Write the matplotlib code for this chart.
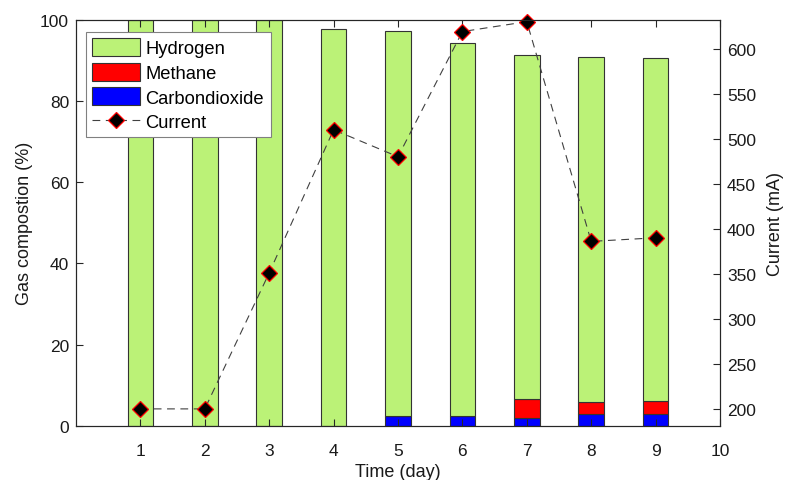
import matplotlib
matplotlib.use("Agg")
import matplotlib.pyplot as plt
import numpy as np

plt.rcParams['font.family'] = ['Liberation Sans', 'DejaVu Sans']

days = [1, 2, 3, 4, 5, 6, 7, 8, 9]
co2 = [0, 0, 0, 0, 2.5, 2.5, 2.0, 2.95, 2.95]
methane = [0, 0, 0, 0, 0, 0, 4.6, 3.0, 3.25]
hydrogen = [100, 100, 100, 97.7, 94.7, 91.8, 84.6, 84.75, 84.4]
current = [200, 200, 351, 510, 480, 619, 630, 386, 390]
xticks = [1, 2, 3, 4, 5, 6, 7, 8, 9, 10]

green = '#BBF277'
edge = '#333333'
axcol = '#262626'
txt = '#1a1a1a'

fig = plt.figure(figsize=(7.86, 4.81), dpi=100)
ax = fig.add_axes([76/786, 1-427/481, (720-76)/786, (427-20.7)/481])
ax2 = ax.twinx()
ax.set_zorder(1)
ax2.set_zorder(2)
ax2.patch.set_visible(False)

x = np.array(days)
w = 0.4
b1 = ax.bar(x, co2, w, color='#0000FF', edgecolor=edge, linewidth=0.8, label='Carbondioxide')
b2 = ax.bar(x, methane, w, bottom=co2, color='#FF0000', edgecolor=edge, linewidth=0.8, label='Methane')
b3 = ax.bar(x, hydrogen, w, bottom=np.array(co2) + np.array(methane), color=green,
            edgecolor=edge, linewidth=0.8, label='Hydrogen')

ln, = ax2.plot(x, current, linestyle=(0, (7, 5)), color='#404040', linewidth=0.8,
               marker='D', markersize=8, markerfacecolor='black', markeredgecolor='red',
               markeredgewidth=0.9, label='Current', clip_on=False)

ax.set_xlim(0, 10)
ax.set_ylim(0, 100)
ax2.set_ylim(181, 632.2)
ax.set_xticks(xticks)
ax.set_yticks([0, 20, 40, 60, 80, 100])
ax2.set_yticks([200, 250, 300, 350, 400, 450, 500, 550, 600])

for a in (ax, ax2):
    for s in a.spines.values():
        s.set_color(axcol)
        s.set_linewidth(0.8)
    a.tick_params(direction='in', length=5, width=0.8, colors=axcol, labelsize=12.5,
                  labelcolor=txt)
ax.tick_params(axis='x', top=True, pad=12)
ax.tick_params(axis='y', left=True, right=False, pad=5)
ax2.tick_params(axis='y', right=True, left=False, pad=5)
ax2.tick_params(axis='x', top=False, bottom=False)

ax.set_xlabel('Time (day)', fontsize=13, labelpad=4, color=txt)
ax.set_ylabel('Gas compostion (%)', fontsize=13, labelpad=5, color=txt)
ax2.set_ylabel('Current (mA)', fontsize=13, labelpad=8, color=txt)

leg = ax2.legend([b3, b2, b1, ln], ['Hydrogen', 'Methane', 'Carbondioxide', 'Current'],
                 loc='upper left', bbox_to_anchor=(86/786, 1-33/481),
                 bbox_transform=fig.transFigure, fontsize=13.2, frameon=True, fancybox=False,
                 edgecolor='#808080', framealpha=1, borderpad=0.35, labelspacing=0.3,
                 handlelength=2.6, handletextpad=0.3, handleheight=1.1, borderaxespad=0)
leg.get_frame().set_linewidth(0.8)

fig.savefig('out.png', dpi=100)
